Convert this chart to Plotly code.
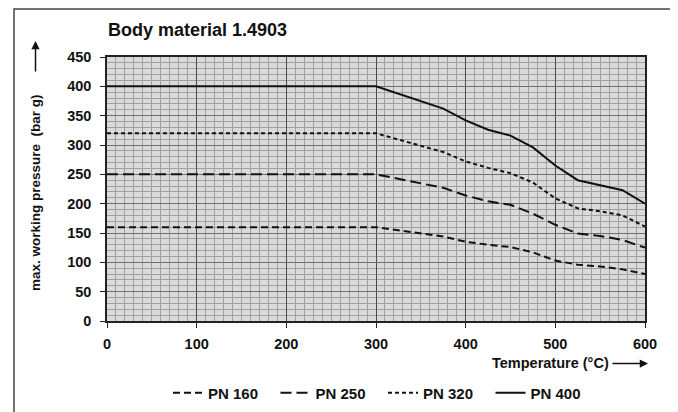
import plotly.graph_objects as go

temperature = [0, 300, 375, 400, 425, 450, 475, 500, 525, 550, 575, 600]
pn160 = [160, 160, 144, 135, 130, 126, 117, 103, 96, 93, 88, 80]
pn250 = [250, 250, 227, 214, 204, 198, 183, 164, 149, 145, 138, 125]
pn320 = [320, 320, 288, 272, 261, 252, 236, 209, 192, 187, 180, 161]
pn400 = [400, 400, 362, 342, 326, 316, 296, 265, 240, 232, 223, 200]

series = [
    ("PN 160", pn160, "7px,4px"),
    ("PN 250", pn250, "11px,5px"),
    ("PN 320", pn320, "4px,3px"),
    ("PN 400", pn400, "solid"),
]

# page body has an 8px margin, so the figure is placed at (8, 8)
OFF = 8
W, H = 678 - OFF, 412 - OFF
L, R, T, B = 107 - OFF, 678 - 645, 57 - OFF, 412 - 321
pw, ph = W - L - R, H - T - B


def px(x):
    return (x - OFF - L) / pw


def py(y):
    return (H - B - (y - OFF)) / ph


fig = go.Figure()
for name, vals, dash in series:
    fig.add_trace(go.Scatter(
        x=temperature, y=vals, mode="lines", name=name,
        line=dict(color="#111111", width=2, dash=dash),
    ))

font = "Liberation Sans, Arial, sans-serif"

fig.update_layout(
    width=W, height=H,
    margin=dict(l=L, r=R, t=T, b=B, autoexpand=False),
    paper_bgcolor="white",
    plot_bgcolor="#dadada",
    font=dict(family=font, size=14, color="#111111"),
    showlegend=True,
    legend=dict(
        orientation="h", x=px(168), xanchor="left", y=py(393), yanchor="middle",
        font=dict(family=font, size=15, color="#111111", weight="bold"),
        bgcolor="rgba(0,0,0,0)", entrywidth=62.5, entrywidthmode="pixels",
        itemwidth=30, tracegroupgap=0,
    ),
    xaxis=dict(
        range=[0, 600], tick0=0, dtick=100, showgrid=True, gridcolor="#4a4a4a", gridwidth=1,
        minor=dict(dtick=10, showgrid=True, gridcolor="#a0a0a0", gridwidth=1),
        showline=True, linecolor="#222222", linewidth=1.5, mirror=True,
        ticks="outside", ticklen=5, tickcolor="#222222", zeroline=False,
        tickfont=dict(family=font, size=14.5, color="#111111", weight="bold"),
        ticklabelstandoff=4,
    ),
    yaxis=dict(
        range=[0, 450], tick0=0, dtick=50, showgrid=True, gridcolor="#707070", gridwidth=1,
        minor=dict(dtick=10, showgrid=True, gridcolor="#a0a0a0", gridwidth=1),
        showline=True, linecolor="#222222", linewidth=1.5, mirror=True,
        ticks="outside", ticklen=5, tickcolor="#222222", zeroline=False,
        tickfont=dict(family=font, size=14.5, color="#111111", weight="bold"),
        ticklabelstandoff=6,
    ),
)

# outer frame
fig.add_shape(type="rect", xref="paper", yref="paper",
              x0=px(14), x1=px(672), y0=py(418), y1=py(9),
              line=dict(color="#444444", width=1.5), fillcolor="rgba(0,0,0,0)", layer="below")

# title
fig.add_annotation(text="<b>Body material 1.4903</b>", xref="paper", yref="paper",
                   x=px(106), xanchor="left", y=py(30), yanchor="middle", showarrow=False,
                   font=dict(family=font, size=18, color="#111111"))

# y axis label + arrow
fig.add_annotation(text="<b>max. working pressure  (bar g)</b>", xref="paper", yref="paper",
                   x=px(35), xanchor="center", y=py(193), yanchor="middle", showarrow=False,
                   textangle=-90, font=dict(family=font, size=13.5, color="#111111"))
fig.add_annotation(text="", xref="paper", yref="paper", x=px(35.5), y=py(41),
                   ax=0, ay=32, showarrow=True, arrowhead=2, arrowsize=1.1,
                   arrowwidth=1.5, arrowcolor="#111111")

# x axis label + arrow
fig.add_annotation(text="<b>Temperature (°C)</b>", xref="paper", yref="paper",
                   x=px(611), xanchor="right", y=py(363), yanchor="middle", showarrow=False,
                   font=dict(family=font, size=14.5, color="#111111"))
fig.add_annotation(text="", xref="paper", yref="paper", x=px(648), y=py(363.5),
                   ax=-37, ay=0, showarrow=True, arrowhead=2, arrowsize=1.1,
                   arrowwidth=1.5, arrowcolor="#111111")

fig.write_html("out.html")
